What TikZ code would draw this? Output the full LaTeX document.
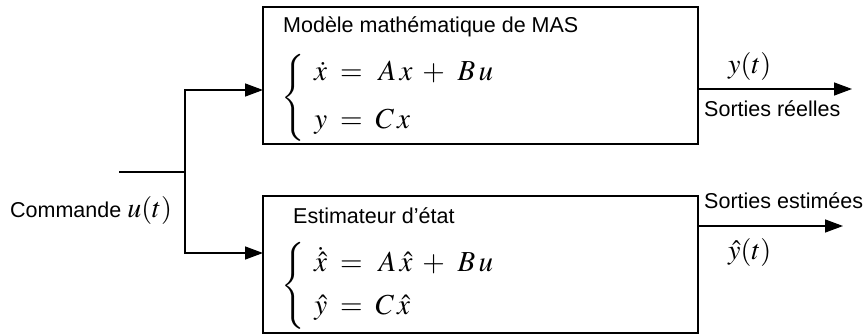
\documentclass[tikz,border=0pt]{standalone}
\usepackage{mathptmx}
\usepackage[no-math]{fontspec}
\setmainfont{Liberation Sans}
\usetikzlibrary{arrows.meta}
\tikzset{
  blk/.style={draw, line width=1.4pt, minimum width=435pt, minimum height=137pt, inner sep=0pt},
  wire/.style={line width=1.4pt},
  arr/.style={wire, -{Triangle[length=18pt,width=13pt]}},
  lbl/.style={font=\fontsize{21.5}{26}\selectfont, inner sep=0pt, anchor=base west},
  mlbl/.style={font=\fontsize{28}{34}\selectfont, inner sep=0pt, anchor=base west},
  eqn/.style={font=\fontsize{29}{35}\selectfont, inner sep=0pt, anchor=west},
}
\begin{document}
\begin{tikzpicture}[x=1pt,y=-1pt]
\useasboundingbox (0,0) rectangle (867,334);
% blocks
\node[blk] (b1) at (480.5,75.5) {};
\node[blk] (b2) at (480.5,264.5) {};
% titles
\node[lbl] (t1) at (283,33) {Modèle mathématique de MAS};
\node[lbl] (t2) at (293,223) {Estimateur d’état};
% equations
\node[eqn] (e1) at (281,98) {$\left\{\;\,\begin{array}{@{}r@{\;\;=\;\;}l@{}}
  \dot{x} & \,A\,x\;\,{+}\;\;B\,u\\[13pt]
  y & C\,x
\end{array}\right.$};
\node[eqn] (e2) at (281,286) {$\left\{\;\,\begin{array}{@{}r@{\;\;=\;\;}l@{}}
  \dot{\hat{x}} & \,A\,\hat{x}\;\,{+}\;\;B\,u\\[8pt]
  \hat{y} & C\,\hat{x}
\end{array}\right.$};
% input
\coordinate (in) at (119,172);
\coordinate (j) at (185,172);
\coordinate (a1) at (263,90);
\coordinate (a2) at (263,253);
\draw[wire] (in) -- (j);
\draw[arr] (j) |- (a1);
\draw[arr] (j) |- (a2);
\node[lbl] (cmd) at (10,217) {Commande {\fontsize{28}{34}\selectfont$u(t)$}};
% outputs
\coordinate (s1) at (698,89);
\coordinate (o1) at (852,89);
\coordinate (s2) at (698,226);
\coordinate (o2) at (843,226);
\draw[arr] (s1) -- (o1);
\draw[arr] (s2) -- (o2);
\node[mlbl] (y1) at (728,74) {$y(t)$};
\node[lbl] (sr) at (704,117) {Sorties réelles};
\node[lbl] (se) at (704,208) {Sorties estimées};
\node[mlbl] (y2) at (728,259) {$\hat{y}(t)$};
\end{tikzpicture}
\end{document}
